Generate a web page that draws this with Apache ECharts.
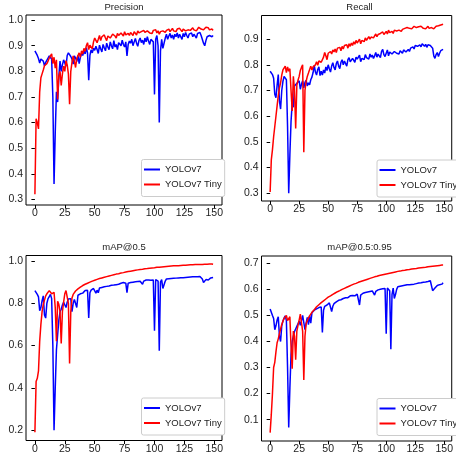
<!DOCTYPE html>
<html><head><meta charset="utf-8">
<script src="https://cdn.jsdelivr.net/npm/echarts@6/dist/echarts.min.js"></script>
<style>html,body{margin:0;padding:0;background:#fff}#c{width:456px;height:464px}</style>
</head><body><div id="c"></div>
<script>
const epochs = 150;
const xTicks = [0,25,50,75,100,125,150];
const seriesNames = ['YOLOv7','YOLOv7 Tiny'];
const panelTitles = ['Precision','Recall','mAP@0.5','mAP@0.5:0.95'];
const precisionTicks = [0.3,0.4,0.5,0.6,0.7,0.8,0.9,1.0];
const recallTicks = [0.3,0.4,0.5,0.6,0.7,0.8,0.9];
const map50Ticks = [0.2,0.4,0.6,0.8,1.0];
const map5095Ticks = [0.1,0.2,0.3,0.4,0.5,0.6,0.7];

const precisionV7 = [
0.880,0.875,0.862,0.850,0.832,0.848,0.852,0.840,0.822,0.835,
0.842,0.852,0.860,0.866,0.848,0.700,0.360,0.560,0.720,0.680,
0.780,0.840,0.800,0.825,0.845,0.852,0.820,0.862,0.872,0.866,
0.858,0.848,0.828,0.860,0.852,0.838,0.862,0.830,0.855,0.870,
0.862,0.880,0.868,0.892,0.872,0.765,0.862,0.884,0.872,0.890,
0.882,0.898,0.885,0.870,0.902,0.888,0.876,0.905,0.892,0.880,
0.910,0.895,0.885,0.915,0.900,0.888,0.920,0.895,0.905,0.885,
0.912,0.918,0.900,0.922,0.905,0.895,0.915,0.860,0.905,0.918,
0.910,0.925,0.900,0.915,0.928,0.910,0.898,0.920,0.930,0.912,
0.922,0.905,0.930,0.915,0.935,0.918,0.905,0.925,0.932,0.915,
0.710,0.925,0.940,0.900,0.600,0.880,0.925,0.890,0.885,0.930,
0.945,0.925,0.938,0.948,0.930,0.942,0.925,0.945,0.935,0.950,
0.930,0.945,0.938,0.925,0.948,0.935,0.952,0.940,0.930,0.945,
0.938,0.950,0.935,0.945,0.940,0.930,0.948,0.945,0.952,0.940,
0.935,0.910,0.900,0.920,0.935,0.930,0.940,0.945,0.935,0.940];
const precisionTiny = [
0.320,0.615,0.600,0.575,0.720,0.775,0.790,0.805,0.822,0.815,
0.830,0.840,0.852,0.860,0.868,0.830,0.855,0.812,0.845,0.690,
0.780,0.800,0.745,0.790,0.820,0.800,0.842,0.825,0.790,0.672,
0.800,0.835,0.860,0.840,0.815,0.850,0.862,0.872,0.855,0.880,
0.868,0.890,0.878,0.900,0.912,0.885,0.902,0.895,0.888,0.915,
0.930,0.935,0.912,0.925,0.940,0.920,0.935,0.928,0.942,0.930,
0.920,0.938,0.945,0.930,0.925,0.945,0.950,0.938,0.930,0.948,
0.940,0.935,0.950,0.945,0.938,0.955,0.942,0.935,0.948,0.940,
0.952,0.945,0.940,0.955,0.948,0.942,0.958,0.950,0.945,0.955,
0.948,0.960,0.952,0.945,0.958,0.962,0.950,0.955,0.948,0.960,
0.955,0.962,0.950,0.958,0.945,0.955,0.962,0.958,0.965,0.952,
0.960,0.958,0.965,0.955,0.962,0.968,0.958,0.962,0.955,0.965,
0.960,0.968,0.962,0.955,0.965,0.960,0.958,0.965,0.962,0.968,
0.960,0.965,0.970,0.962,0.968,0.958,0.965,0.972,0.975,0.965,
0.970,0.962,0.968,0.972,0.965,0.970,0.962,0.968,0.965,0.960];

const recallV7 = [
0.775,0.770,0.762,0.748,0.685,0.672,0.720,0.762,0.660,0.628,
0.700,0.735,0.755,0.750,0.742,0.560,0.300,0.450,0.580,0.650,
0.635,0.718,0.712,0.728,0.722,0.738,0.705,0.725,0.738,0.710,
0.732,0.740,0.718,0.730,0.722,0.742,0.752,0.770,0.798,0.772,
0.760,0.782,0.792,0.758,0.775,0.760,0.780,0.768,0.792,0.778,
0.800,0.785,0.772,0.795,0.808,0.790,0.780,0.805,0.815,0.795,
0.785,0.810,0.820,0.800,0.815,0.808,0.795,0.820,0.828,0.812,
0.805,0.825,0.818,0.810,0.830,0.822,0.815,0.838,0.812,0.825,
0.832,0.820,0.840,0.828,0.835,0.822,0.842,0.830,0.838,0.825,
0.835,0.848,0.830,0.842,0.835,0.828,0.852,0.860,0.840,0.832,
0.845,0.858,0.835,0.850,0.855,0.842,0.838,0.852,0.848,0.845,
0.850,0.842,0.855,0.848,0.845,0.858,0.862,0.850,0.855,0.860,
0.852,0.865,0.858,0.870,0.862,0.875,0.880,0.872,0.868,0.878,
0.870,0.882,0.875,0.872,0.880,0.868,0.878,0.882,0.875,0.880,
0.865,0.835,0.825,0.840,0.848,0.832,0.845,0.855,0.850,0.860];
const recallTiny = [
0.305,0.430,0.470,0.520,0.560,0.600,0.640,0.680,0.710,0.730,
0.760,0.780,0.785,0.795,0.770,0.792,0.775,0.785,0.700,0.620,
0.755,0.700,0.552,0.720,0.740,0.755,0.778,0.790,0.800,0.460,
0.700,0.735,0.755,0.768,0.775,0.795,0.780,0.792,0.788,0.800,
0.812,0.798,0.815,0.822,0.810,0.808,0.830,0.848,0.835,0.820,
0.845,0.838,0.852,0.842,0.858,0.850,0.862,0.848,0.865,0.858,
0.868,0.855,0.872,0.862,0.875,0.868,0.878,0.865,0.882,0.872,
0.885,0.875,0.890,0.880,0.895,0.885,0.888,0.900,0.882,0.895,
0.898,0.890,0.905,0.895,0.902,0.910,0.900,0.908,0.915,0.905,
0.912,0.920,0.910,0.918,0.912,0.922,0.915,0.928,0.918,0.925,
0.930,0.920,0.935,0.925,0.918,0.930,0.922,0.935,0.928,0.932,
0.925,0.935,0.940,0.930,0.938,0.932,0.942,0.935,0.945,0.938,
0.942,0.948,0.940,0.945,0.950,0.948,0.945,0.952,0.948,0.945,
0.950,0.945,0.942,0.948,0.940,0.945,0.950,0.942,0.938,0.945,
0.948,0.940,0.945,0.950,0.945,0.952,0.948,0.955,0.950,0.958];

const map50V7 = [
0.860,0.852,0.842,0.830,0.765,0.780,0.812,0.835,0.745,0.730,
0.800,0.822,0.832,0.842,0.822,0.600,0.200,0.400,0.580,0.650,
0.720,0.760,0.772,0.792,0.805,0.812,0.780,0.805,0.820,0.828,
0.822,0.760,0.800,0.818,0.810,0.780,0.838,0.842,0.845,0.850,
0.848,0.855,0.860,0.852,0.862,0.730,0.850,0.862,0.865,0.870,
0.868,0.848,0.862,0.850,0.872,0.870,0.875,0.880,0.878,0.882,
0.880,0.885,0.882,0.888,0.885,0.890,0.886,0.890,0.888,0.892,
0.890,0.893,0.895,0.892,0.898,0.896,0.895,0.850,0.895,0.900,
0.898,0.902,0.900,0.904,0.902,0.905,0.903,0.906,0.904,0.908,
0.890,0.905,0.908,0.910,0.907,0.910,0.912,0.909,0.912,0.910,
0.670,0.912,0.915,0.905,0.575,0.900,0.912,0.870,0.865,0.905,
0.915,0.918,0.916,0.919,0.917,0.920,0.918,0.921,0.919,0.922,
0.920,0.922,0.921,0.923,0.921,0.924,0.922,0.925,0.923,0.925,
0.924,0.926,0.925,0.927,0.925,0.928,0.926,0.928,0.927,0.926,
0.915,0.898,0.905,0.912,0.915,0.910,0.918,0.920,0.918,0.922];
const map50Tiny = [
0.190,0.430,0.445,0.480,0.620,0.700,0.760,0.795,0.815,0.835,
0.845,0.852,0.860,0.865,0.845,0.848,0.852,0.780,0.620,0.810,
0.795,0.760,0.610,0.760,0.805,0.845,0.860,0.865,0.800,0.515,
0.760,0.825,0.842,0.850,0.858,0.862,0.868,0.872,0.876,0.880,
0.884,0.885,0.890,0.891,0.895,0.896,0.900,0.901,0.905,0.905,
0.909,0.909,0.913,0.913,0.917,0.917,0.920,0.920,0.923,0.923,
0.926,0.926,0.929,0.929,0.932,0.931,0.935,0.934,0.938,0.937,
0.940,0.940,0.943,0.942,0.945,0.945,0.948,0.947,0.950,0.949,
0.952,0.951,0.954,0.953,0.956,0.955,0.958,0.957,0.960,0.959,
0.961,0.960,0.963,0.962,0.964,0.963,0.966,0.965,0.967,0.966,
0.968,0.967,0.970,0.969,0.971,0.970,0.972,0.971,0.973,0.972,
0.974,0.973,0.975,0.974,0.976,0.975,0.977,0.976,0.977,0.976,
0.978,0.977,0.979,0.978,0.980,0.979,0.980,0.979,0.981,0.980,
0.982,0.981,0.982,0.981,0.983,0.982,0.983,0.982,0.984,0.983,
0.984,0.983,0.985,0.984,0.985,0.984,0.986,0.985,0.986,0.985];

const map5095V7 = [
0.525,0.518,0.500,0.488,0.445,0.460,0.482,0.495,0.420,0.400,
0.460,0.478,0.490,0.498,0.480,0.300,0.070,0.220,0.350,0.400,
0.420,0.438,0.445,0.458,0.468,0.478,0.462,0.480,0.500,0.495,
0.445,0.470,0.492,0.465,0.498,0.470,0.510,0.515,0.520,0.522,
0.525,0.528,0.530,0.528,0.532,0.435,0.520,0.535,0.538,0.540,
0.542,0.548,0.552,0.515,0.535,0.545,0.550,0.552,0.555,0.558,
0.556,0.560,0.562,0.565,0.562,0.568,0.570,0.568,0.572,0.575,
0.572,0.576,0.578,0.575,0.580,0.582,0.580,0.540,0.578,0.584,
0.585,0.583,0.588,0.586,0.590,0.588,0.592,0.590,0.594,0.595,
0.578,0.592,0.596,0.598,0.596,0.600,0.598,0.602,0.600,0.603,
0.430,0.605,0.608,0.595,0.370,0.580,0.605,0.565,0.580,0.600,
0.610,0.608,0.612,0.610,0.614,0.612,0.616,0.614,0.618,0.616,
0.618,0.620,0.619,0.622,0.620,0.624,0.622,0.625,0.624,0.627,
0.625,0.628,0.627,0.630,0.628,0.631,0.630,0.632,0.633,0.632,
0.595,0.590,0.605,0.612,0.615,0.608,0.618,0.615,0.620,0.625];
const map5095Tiny = [
0.050,0.120,0.200,0.300,0.320,0.360,0.395,0.410,0.430,0.448,
0.465,0.478,0.488,0.495,0.500,0.480,0.475,0.495,0.380,0.295,
0.440,0.420,0.330,0.440,0.462,0.482,0.505,0.510,0.440,0.252,
0.420,0.468,0.480,0.490,0.498,0.505,0.512,0.518,0.522,0.527,
0.533,0.535,0.541,0.543,0.549,0.551,0.556,0.558,0.563,0.564,
0.570,0.571,0.575,0.576,0.581,0.581,0.586,0.586,0.591,0.591,
0.595,0.595,0.600,0.600,0.604,0.604,0.608,0.608,0.612,0.612,
0.616,0.616,0.620,0.619,0.623,0.623,0.627,0.626,0.630,0.630,
0.633,0.633,0.636,0.636,0.639,0.639,0.642,0.642,0.645,0.644,
0.648,0.647,0.650,0.649,0.653,0.652,0.655,0.654,0.657,0.656,
0.659,0.658,0.661,0.660,0.663,0.662,0.665,0.664,0.667,0.666,
0.669,0.668,0.670,0.669,0.672,0.671,0.673,0.672,0.675,0.674,
0.676,0.675,0.678,0.677,0.679,0.678,0.680,0.679,0.682,0.681,
0.683,0.682,0.684,0.683,0.685,0.685,0.687,0.686,0.688,0.687,
0.689,0.688,0.690,0.690,0.691,0.690,0.692,0.692,0.693,0.693];

const panels = [
  {title: panelTitles[0], v7: precisionV7, tiny: precisionTiny, ticks: precisionTicks, min: 0.278, max: 1.020,
   grid: {left: 26, top: 15, width: 196, height: 190}, legend: {left: 141.5, top: 159.5}, titleXY: [124, 7.5]},
  {title: panelTitles[1], v7: recallV7, tiny: recallTiny, ticks: recallTicks, min: 0.270, max: 0.992,
   grid: {left: 261.5, top: 15.5, width: 196, height: 185.5}, legend: {left: 377, top: 160}, titleXY: [359.5, 7.5]},
  {title: panelTitles[2], v7: map50V7, tiny: map50Tiny, ticks: map50Ticks, min: 0.151, max: 1.026,
   grid: {left: 26, top: 255.5, width: 196, height: 185}, legend: {left: 141.5, top: 398}, titleXY: [124, 247]},
  {title: panelTitles[3], v7: map5095V7, tiny: map5095Tiny, ticks: map5095Ticks, min: 0.018, max: 0.728,
   grid: {left: 261.5, top: 256, width: 196, height: 185}, legend: {left: 377, top: 398.5}, titleXY: [359.5, 247]}
];

const FONT = "'Liberation Sans', Arial, sans-serif";
const option = {animation: false, backgroundColor: '#fff', grid: [], xAxis: [], yAxis: [], series: [], legend: [], graphic: []};
panels.forEach((p, k) => {
  option.grid.push(Object.assign({show: true, borderColor: '#000', borderWidth: 1, backgroundColor: 'transparent'}, p.grid));
  option.xAxis.push({type: 'value', gridIndex: k, min: -7.45, max: 156.45,
    axisLine: {show: false}, splitLine: {show: false},
    axisTick: {show: true, inside: false, length: 3.5, lineStyle: {color: '#000', width: 1}, customValues: xTicks},
    axisLabel: {show: true, margin: 3, color: '#222', fontFamily: FONT, fontSize: 10.5, customValues: xTicks, formatter: v => String(v)}});
  option.yAxis.push({type: 'value', gridIndex: k, min: p.min, max: p.max,
    axisLine: {show: false}, splitLine: {show: false},
    axisTick: {show: true, inside: false, length: 3.5, lineStyle: {color: '#000', width: 1}, customValues: p.ticks},
    axisLabel: {show: true, margin: 3, color: '#222', fontFamily: FONT, fontSize: 10.5, customValues: p.ticks, formatter: v => v.toFixed(1)}});
  option.series.push({name: seriesNames[0], type: 'line', xAxisIndex: k, yAxisIndex: k, showSymbol: false, symbol: 'none',
    color: '#0000ff', lineStyle: {color: '#0000ff', width: 1.5}, data: p.v7.map((v, i) => [i, v])});
  option.series.push({name: seriesNames[1], type: 'line', xAxisIndex: k, yAxisIndex: k, showSymbol: false, symbol: 'none',
    color: '#ff0000', lineStyle: {color: '#ff0000', width: 1.5}, data: p.tiny.map((v, i) => [i, v])});
  option.legend.push({data: seriesNames, orient: 'vertical', left: p.legend.left, top: p.legend.top,
    icon: 'rect', itemWidth: 16, itemHeight: 2, itemGap: 3, selectedMode: false,
    backgroundColor: '#fff', borderColor: '#cccccc', borderWidth: 1, borderRadius: 2, padding: [4, 3, 6, 2.5],
    textStyle: {color: '#222', fontFamily: FONT, fontSize: 9.5, lineHeight: 12}});
  option.graphic.push({type: 'text', x: p.titleXY[0], y: p.titleXY[1],
    style: {text: p.title, fill: '#222', font: "9.5px " + FONT, textAlign: 'center', textVerticalAlign: 'middle'}});
});
const chart = echarts.init(document.getElementById('c'), null, {renderer: 'canvas'});
chart.setOption(option);
</script></body></html>
